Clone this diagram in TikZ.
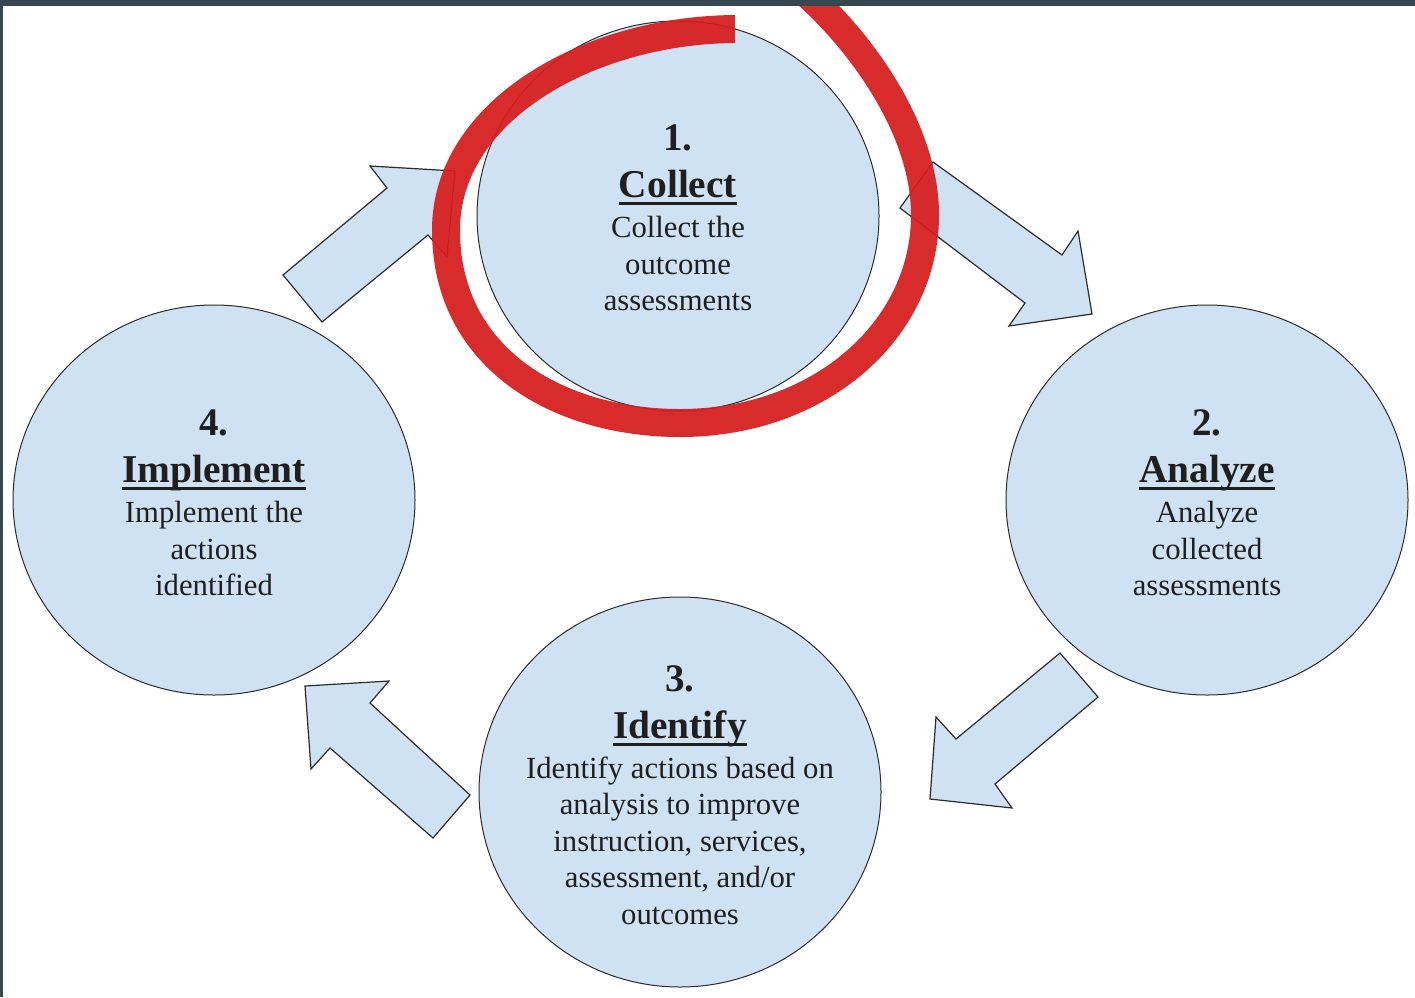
\documentclass[tikz,border=0pt]{standalone}
\usepackage{fontspec}
\setmainfont{Liberation Serif}
\usetikzlibrary{shapes.geometric}
\definecolor{cfill}{HTML}{CFE2F3}
\definecolor{cline}{HTML}{2B2B2B}
\definecolor{redpen}{RGB}{214,28,28}
\definecolor{frame}{HTML}{37474F}
\newcommand\ttl[1]{\setbox0\hbox{#1}\rlap{\rule[-7.5pt]{\wd0}{3pt}}\box0}
\newcommand\stnum[1]{{\fontsize{39}{39}\selectfont\bfseries #1}}
\newcommand\sthd[1]{{\fontsize{39.4}{39}\selectfont\bfseries\ttl{#1}}}
\tikzset{
 stage/.style={ellipse, draw=cline, line width=1pt, fill=cfill, minimum width=402pt, minimum height=390pt, inner sep=0pt},
 blockarrow/.style={draw=cline, line width=1.2pt, fill=cfill, line join=miter},
 stagetext/.style={align=center, font=\fontsize{30.7}{36.5}\selectfont, text=black!88, inner sep=0pt},
 pen/.style={draw=redpen, line width=28pt, opacity=0.93, line cap=butt},
}
\begin{document}
\begin{tikzpicture}[x=1pt,y=-1pt]
\useasboundingbox (0,0) rectangle (1415,997);
\fill[white] (0,0) rectangle (1415,997);
% block arrows
\draw[blockarrow] (283,275) -- (387,188) -- (370,166) -- (455,171) -- (447,257) -- (428,235) -- (322,322) -- cycle;
\draw[blockarrow] (933,162) -- (1062,255) -- (1078,231) -- (1092,314) -- (1009,326) -- (1025,303) -- (900,208) -- cycle;
\draw[blockarrow] (1060,653) -- (956,739) -- (936,717) -- (930,799) -- (1012,808) -- (995,784) -- (1098,697) -- cycle;
\draw[blockarrow] (470,795) -- (370,703) -- (389,681) -- (305,686) -- (311,769) -- (330,748) -- (433,838) -- cycle;
% stages
\node[stage] (collect) at (678,216) {};
\node[stage] (analyze) at (1207,500) {};
\node[stage] (identify) at (680,792) {};
\node[stage] (implement) at (214,500) {};
\node[stagetext] (collecttxt) at ([yshift=-2pt]collect.center) {\stnum{1.}\\[10.5pt]\sthd{Collect}\\[3.5pt]Collect the\\outcome\\assessments};
\node[stagetext] (analyzetxt) at ([yshift=-3pt]analyze.center) {\stnum{2.}\\[10.5pt]\sthd{Analyze}\\[3.5pt]Analyze\\collected\\assessments};
\node[stagetext] (identifytxt) at ([yshift=-3pt]identify.center) {\stnum{3.}\\[10.5pt]\sthd{Identify}\\[3.5pt]Identify actions based on\\analysis to improve\\instruction, services,\\assessment, and/or\\outcomes};
\node[stagetext] (implementtxt) at ([yshift=-3pt]implement.center) {\stnum{4.}\\[10.5pt]\sthd{Implement}\\[3.5pt]Implement the\\actions\\identified};
% red pen circle
\begin{scope}
\clip (0,0) rectangle (1415,997);
\draw[pen] (735,29) .. controls (590,30) and (446,110) .. (446,230)
  .. controls (446,360) and (560,423) .. (680,423)
  .. controls (820,423) and (925,330) .. (925,215)
  .. controls (925,125) and (855,35) .. (800,-12);
\end{scope}
% frame
\fill[frame] (0,0) rectangle (1415,6);
\fill[frame] (0,0) rectangle (2.5,997);
\end{tikzpicture}
\end{document}
